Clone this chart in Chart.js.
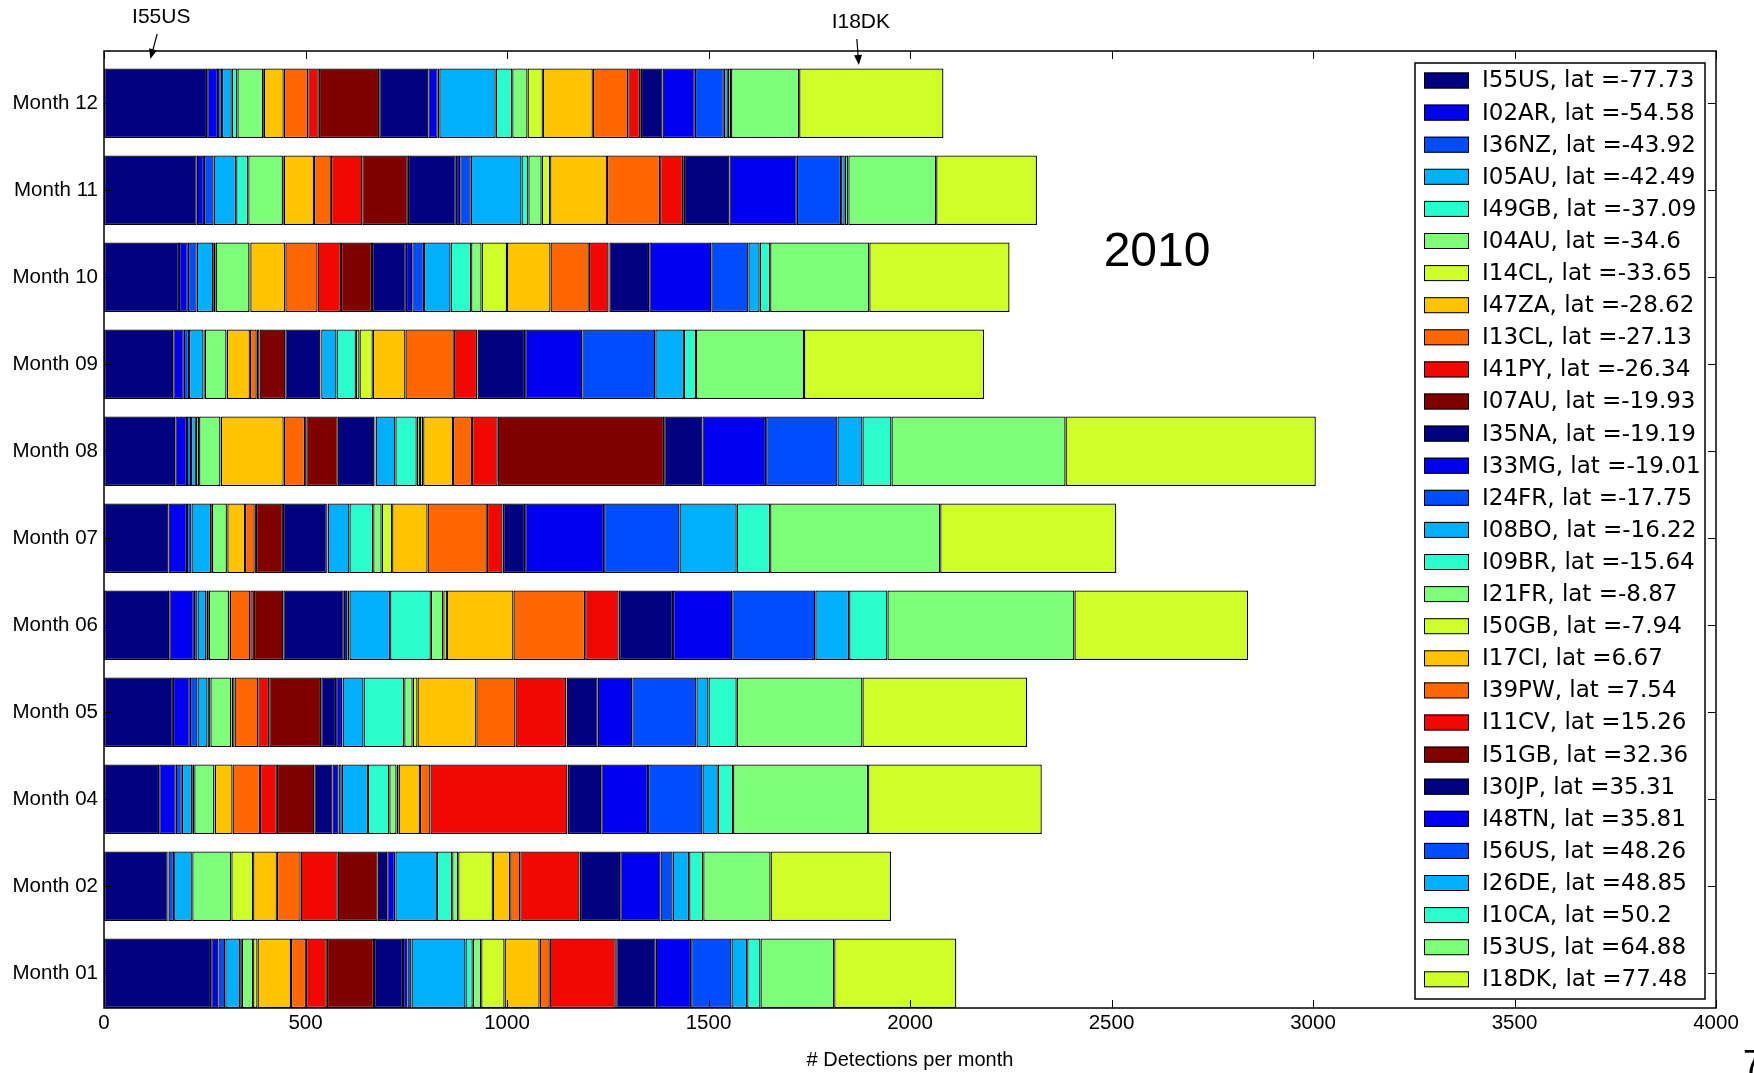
<!DOCTYPE html>
<html>
<head>
<meta charset="utf-8">
<title>Detections per month 2010</title>
<script src="https://cdn.jsdelivr.net/npm/chart.js@4.4.0/dist/chart.umd.min.js"></script>
<style>
    html, body { margin: 0; padding: 0; background: #fff; }
    #wrap { position: relative; width: 1754px; height: 1073px; }
</style>
</head>
<body>
<div id="wrap"><canvas id="chart"></canvas></div>
<script>
// categories, bottom to top
const months = ['Month 01', 'Month 02', 'Month 04', 'Month 05', 'Month 06', 'Month 07',
    'Month 08', 'Month 09', 'Month 10', 'Month 11', 'Month 12'];

// stations in stacking order (left to right) with their latitude
const stations = ['I55US', 'I02AR', 'I36NZ', 'I05AU', 'I49GB', 'I04AU', 'I14CL', 'I47ZA', 'I13CL',
    'I41PY', 'I07AU', 'I35NA', 'I33MG', 'I24FR', 'I08BO', 'I09BR', 'I21FR', 'I50GB', 'I17CI',
    'I39PW', 'I11CV', 'I51GB', 'I30JP', 'I48TN', 'I56US', 'I26DE', 'I10CA', 'I53US', 'I18DK'];
const lats = ['-77.73', '-54.58', '-43.92', '-42.49', '-37.09', '-34.6', '-33.65', '-28.62', '-27.13',
    '-26.34', '-19.93', '-19.19', '-19.01', '-17.75', '-16.22', '-15.64', '-8.87', '-7.94', '6.67',
    '7.54', '15.26', '32.36', '35.31', '35.81', '48.26', '48.85', '50.2', '64.88', '77.48'];

// detections per station (same order as stations), one array per month
const m01 = [266, 18, 17, 37, 4, 28, 11, 83, 37, 52, 117, 72, 11, 10, 134, 18, 21, 58, 87, 25, 164, 1, 98, 88, 100, 39, 33, 183, 303];
const m02 = [158, 2, 14, 44, 1, 97, 54, 59, 59, 92, 99, 24, 19, 1, 103, 38, 15, 86, 43, 25, 147, 1, 100, 100, 30, 41, 35, 167, 299];
const m04 = [137, 41, 15, 26, 5, 50, 1, 44, 68, 42, 93, 45, 15, 8, 65, 53, 18, 5, 53, 26, 340, 1, 83, 116, 135, 38, 38, 335, 431];
const m05 = [171, 42, 19, 25, 7, 52, 1, 7, 59, 27, 129, 37, 15, 1, 52, 101, 21, 12, 146, 97, 126, 1, 77, 86, 159, 30, 70, 312, 409];
const m06 = [162, 61, 9, 22, 6, 50, 1, 1, 51, 9, 73, 150, 9, 5, 101, 101, 31, 9, 165, 178, 83, 1, 134, 147, 206, 84, 95, 464, 431];
const m07 = [160, 46, 11, 49, 2, 37, 1, 44, 24, 3, 67, 109, 1, 1, 54, 59, 21, 26, 88, 147, 39, 1, 55, 196, 187, 142, 83, 422, 437];
const m08 = [177, 29, 10, 12, 8, 53, 1, 156, 53, 3, 78, 91, 2, 1, 49, 53, 8, 8, 74, 47, 64, 413, 95, 158, 177, 62, 72, 432, 621];
const m09 = [172, 26, 13, 36, 3, 54, 1, 57, 17, 7, 64, 87, 1, 1, 38, 48, 9, 33, 81, 120, 58, 1, 118, 142, 181, 71, 30, 268, 447];
const m10 = [186, 22, 22, 41, 6, 84, 2, 87, 80, 58, 77, 84, 16, 29, 66, 51, 26, 63, 108, 95, 49, 2, 99, 154, 92, 28, 26, 246, 348];
const m11 = [230, 18, 24, 56, 30, 86, 2, 75, 42, 78, 113, 119, 11, 26, 126, 17, 33, 21, 141, 132, 57, 2, 113, 167, 110, 9, 9, 218, 250];
const m12 = [256, 27, 10, 24, 14, 64, 2, 49, 61, 26, 150, 122, 23, 4, 140, 41, 38, 38, 124, 88, 29, 2, 54, 80, 72, 10, 8, 169, 358];
const monthValues = [m01, m02, m04, m05, m06, m07, m08, m09, m10, m11, m12];

const xMax = 4000;
const xStep = 500;
const yearLabel = '2010';

// matplotlib "jet", 11 evenly spaced samples, cycled over the stations
const jet = ['#000080', '#0000f1', '#004cff', '#00b0ff', '#29ffce', '#7dff7a',
    '#ceff29', '#ffc400', '#ff6800', '#f10800', '#800000'];

const SANS = "'Liberation Sans', Arial, sans-serif";
const VERA = "'DejaVu Sans', sans-serif";

const datasets = stations.map((name, s) => ({
    label: `${name}, lat =${lats[s]}`,
    data: monthValues.map((vals, i) => ({ x: vals[s], y: i + 0.4 })),
    backgroundColor: jet[s % jet.length],
    borderColor: '#000',
    borderWidth: 1.3,
    borderSkipped: false,
    inflateAmount: 0,
    barPercentage: 0.8,
    categoryPercentage: 1.0
}));

// frame, inward ticks, legend box and annotations
const decorations = {
    id: 'decorations',
    afterDatasetsDraw(chart) {
        const { ctx, chartArea: a, scales: { x, y } } = chart;
        ctx.save();
        ctx.strokeStyle = '#000';
        ctx.lineWidth = 1;
        ctx.beginPath();
        x.ticks.forEach(t => {
            const px = Math.round(x.getPixelForValue(t.value)) + 0.5;
            ctx.moveTo(px, a.bottom); ctx.lineTo(px, a.bottom - 8);
            ctx.moveTo(px, a.top); ctx.lineTo(px, a.top + 8);
        });
        y.ticks.forEach(t => {
            const py = Math.round(y.getPixelForValue(t.value)) + 0.5;
            ctx.moveTo(a.left, py); ctx.lineTo(a.left + 8, py);
            ctx.moveTo(a.right, py); ctx.lineTo(a.right - 8, py);
        });
        ctx.stroke();
        ctx.lineWidth = 1.5;
        ctx.strokeRect(a.left, a.top, a.right - a.left, a.bottom - a.top);
        ctx.restore();
    },
    afterDraw(chart) {
        const { ctx, chartArea: a, scales: { x } } = chart;
        ctx.save();

        // legend inside the axes, upper right
        const lx = a.right - 301, ly = a.top + 12, lw = 290, lh = 936, row = 32.1;
        ctx.fillStyle = '#fff';
        ctx.fillRect(lx, ly, lw, lh);
        ctx.strokeStyle = '#000';
        ctx.lineWidth = 1.5;
        ctx.strokeRect(lx, ly, lw, lh);
        ctx.font = `23px ${VERA}`;
        ctx.textBaseline = 'middle';
        ctx.textAlign = 'left';
        chart.data.datasets.forEach((ds, i) => {
            const cy = ly + 17.5 + i * row;
            ctx.fillStyle = ds.backgroundColor;
            ctx.fillRect(lx + 9, cy - 8, 45, 16);
            ctx.lineWidth = 1;
            ctx.strokeRect(lx + 9.5, cy - 7.5, 44, 15);
            ctx.fillStyle = '#000';
            ctx.fillText(ds.label, lx + 67, cy + 1);
        });

        // station annotations with arrows
        const notes = [
            { text: 'I55US', tip: 115, at: 142, ty: 17, from: 34, to: 59 },
            { text: 'I18DK', tip: 1873, at: 1878, ty: 22, from: 39, to: 65 }
        ];
        ctx.font = `21px ${SANS}`;
        ctx.textAlign = 'center';
        notes.forEach(n => {
            const tx = x.getPixelForValue(n.at), px = x.getPixelForValue(n.tip);
            ctx.fillStyle = '#000';
            ctx.fillText(n.text, tx, n.ty);
            const sx = tx - 4, ang = Math.atan2(n.to - n.from, px - sx);
            ctx.beginPath();
            ctx.moveTo(sx, n.from);
            ctx.lineTo(px - 9 * Math.cos(ang), n.to - 9 * Math.sin(ang));
            ctx.lineWidth = 1.2;
            ctx.stroke();
            ctx.beginPath();
            ctx.moveTo(px, n.to);
            ctx.lineTo(px - 10 * Math.cos(ang) + 4 * Math.sin(ang), n.to - 10 * Math.sin(ang) - 4 * Math.cos(ang));
            ctx.lineTo(px - 10 * Math.cos(ang) - 4 * Math.sin(ang), n.to - 10 * Math.sin(ang) + 4 * Math.cos(ang));
            ctx.closePath();
            ctx.fill();
        });

        // year
        ctx.font = `48px ${SANS}`;
        ctx.textBaseline = 'middle';
        ctx.fillText(yearLabel, x.getPixelForValue(2613), 253);

        // page number, cut by the right edge
        ctx.font = `35px ${SANS}`;
        ctx.textAlign = 'left';
        ctx.textBaseline = 'alphabetic';
        ctx.fillText('7', 1743, 1074);
        ctx.restore();
    }
};

new Chart(document.getElementById('chart'), {
    type: 'bar',
    data: { datasets },
    options: {
        indexAxis: 'y',
        responsive: true,
        maintainAspectRatio: false,
        animation: false,
        layout: { padding: { top: 51, right: 38, left: 0, bottom: 0 } },
        plugins: {
            legend: { display: false },
            tooltip: { enabled: false }
        },
        scales: {
            x: {
                type: 'linear',
                stacked: true,
                min: 0,
                max: xMax,
                grid: { display: false, drawTicks: false },
                border: { display: false },
                ticks: {
                    stepSize: xStep,
                    color: '#000',
                    padding: 3,
                    maxRotation: 0,
                    font: { family: SANS, size: 20.5 },
                    callback: v => String(v)
                },
                title: {
                    display: true,
                    text: '# Detections per month',
                    color: '#000',
                    font: { family: SANS, size: 20 },
                    padding: { top: 0, bottom: 1 }
                },
                afterFit: s => { s.height = 65; }
            },
            y: {
                type: 'linear',
                stacked: true,
                offset: false,
                min: 0,
                max: months.length,
                grid: { display: false, drawTicks: false },
                border: { display: false },
                afterBuildTicks: axis => {
                    axis.ticks = months.map((m, i) => ({ value: i + 0.4 }));
                },
                ticks: {
                    autoSkip: false,
                    color: '#000',
                    padding: 6,
                    font: { family: SANS, size: 20.5 },
                    callback: (v, i) => months[i]
                },
                afterFit: s => { s.width = 104; }
            }
        }
    },
    plugins: [decorations]
});
</script>
</body>
</html>
